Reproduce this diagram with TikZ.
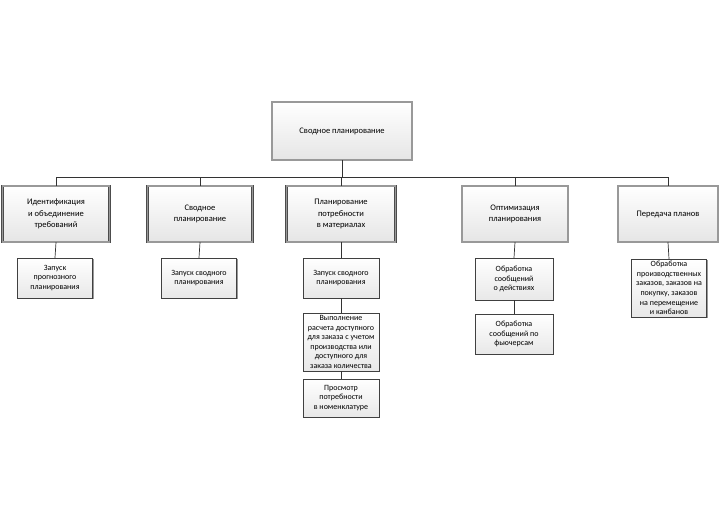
\documentclass[tikz,border=0pt]{standalone}
\usepackage{fontspec}
\setmainfont{Carlito}
\usetikzlibrary{shadows}
\tikzstyle{plan} = [rectangle, draw=black!70, double=black!40, double distance=1.8pt, top color=white, bottom color=black!10, align=center, inner sep=1pt, font=\fontsize{8.5}{11.5}\selectfont]
\tikzstyle{task} = [rectangle, draw=black!75, top color=white, bottom color=black!9, align=center, inner sep=1pt, font=\fontsize{8}{9.6}\selectfont, drop shadow={shadow xshift=1.2pt, shadow yshift=-1.2pt, fill=black!40, opacity=1}]
\tikzstyle{link} = [draw=black!80, line width=0.7pt]

\begin{document}
\begin{tikzpicture}[x=1pt, y=-1pt]
\useasboundingbox (0,0) rectangle (721,529);
\coordinate (bus) at (0,177);

\node (top) [plan, minimum width=140pt, minimum height=58pt] at (342,131) {Сводное планирование};

\node (ident) [plan, minimum width=107pt, minimum height=56pt] at (56,214) {Идентификация\\и объединение\\требований};
\node (mps) [plan, minimum width=105pt, minimum height=56pt] at (200,214) {Сводное\\планирование};
\node (mrp) [plan, minimum width=109pt, minimum height=56pt] at (341,214) {Планирование\\потребности\\в материалах};
\node (optim) [plan, minimum width=106pt, minimum height=56pt] at (515,214) {Оптимизация\\планирования};
\node (firm) [plan, minimum width=100pt, minimum height=56pt] at (668,214) {Передача планов};

\node (fcrun) [task, minimum width=75pt, minimum height=40pt] at (55,278) {Запуск\\прогнозного\\планирования};
\node (mpsrun) [task, minimum width=75pt, minimum height=40pt] at (199,278) {Запуск сводного\\планирования};
\node (mrprun) [task, minimum width=76pt, minimum height=40pt] at (341,278) {Запуск сводного\\планирования};
\node (ctp) [task, minimum width=76pt, minimum height=58pt] at (341,342) {Выполнение\\расчета доступного\\для заказа с учетом\\производства или\\доступного для\\заказа количества};
\node (itemreq) [task, minimum width=76pt, minimum height=38pt] at (341,398) {Просмотр\\потребности\\в номенклатуре};
\node (action) [task, minimum width=78pt, minimum height=42pt] at (514,279) {Обработка\\сообщений\\о действиях};
\node (futures) [task, minimum width=78pt, minimum height=40pt] at (514,334) {Обработка\\сообщений по\\фьючерсам};
\node (orders) [task, minimum width=75pt, minimum height=58pt] at (669,288) {Обработка\\производственных\\заказов, заказов на\\покупку, заказов\\на перемещение\\и канбанов};

\draw [link] (top.south) -- (top.south |- bus) -| (ident.north);
\draw [link] (top.south |- bus) -| (mps.north);
\draw [link] (top.south |- bus) -| (mrp.north);
\draw [link] (top.south |- bus) -| (optim.north);
\draw [link] (top.south |- bus) -| (firm.north);
\draw [link] (ident.south) -- (fcrun.north);
\draw [link] (mps.south) -- (mpsrun.north);
\draw [link] (mrp.south) -- (mrprun.north);
\draw [link] (mrprun.south) -- (ctp.north);
\draw [link] (ctp.south) -- (itemreq.north);
\draw [link] (optim.south) -- (action.north);
\draw [link] (action.south) -- (futures.north);
\draw [link] (firm.south) -- (orders.north);
\end{tikzpicture}
\end{document}
